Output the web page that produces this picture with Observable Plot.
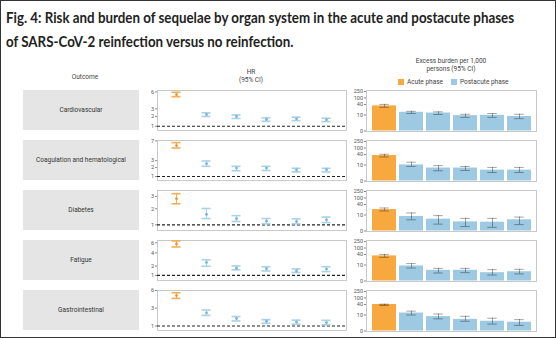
<!DOCTYPE html>
<html><head><meta charset="utf-8">
<script src="https://cdn.jsdelivr.net/npm/d3@7"></script>
<script src="https://cdn.jsdelivr.net/npm/@observablehq/plot@0.6"></script>
<style>
html,body{margin:0;padding:0;background:#fff;}
#fig{position:relative;width:556px;height:338px;box-sizing:border-box;border:1px solid #333;overflow:hidden;font-family:Roboto,"Noto Sans",sans-serif;}
.tl{position:absolute;left:5px;font-family:Lato,"Open Sans",sans-serif;font-weight:bold;font-size:15.5px;line-height:18px;color:#222;white-space:nowrap;transform-origin:0 0;}
.lbl{position:absolute;font-size:6.5px;color:#444;text-align:center;line-height:8px;width:140px;}
.box{position:absolute;left:22px;width:116px;height:40px;background:#e5e5e5;display:flex;align-items:center;justify-content:center;font-size:6.5px;color:#333;}
.plot{position:absolute;}
.leg{position:absolute;font-size:6.5px;color:#444;line-height:8px;white-space:nowrap;}
.sw{display:inline-block;width:6px;height:6px;vertical-align:-1px;margin-right:3px;}
</style></head><body>
<div id="fig">
  <span class="tl" id="t1" style="top:7px">Fig. 4: Risk and burden of sequelae by organ system in the acute and postacute phases</span>
  <span class="tl" id="t2" style="top:31px">of SARS-CoV-2 reinfection versus no reinfection.</span>
</div>
<script>
const outcomes = ["Cardiovascular","Coagulation and hematological","Diabetes","Fatigue","Gastrointestinal"];
const periods = ["Acute","Post 1","Post 2","Post 3","Post 4","Post 5"];
const phases = ["Acute phase","Postacute phase","Postacute phase","Postacute phase","Postacute phase","Postacute phase"];
const legendLabels = ["Acute phase","Postacute phase"];

// Hazard ratios (95% CI)
const hrEst = [
  [5.44,2.24,1.99,1.65,1.72,1.61],
  [5.9,2.53,1.94,1.94,1.70,1.73],
  [2.80,1.61,1.34,1.20,1.18,1.27],
  [5.75,2.48,1.75,1.68,1.43,1.64],
  [5.03,2.37,1.71,1.43,1.35,1.30]
];
const hrLo = [
  [5.05,1.99,1.76,1.46,1.53,1.43],
  [5.38,2.18,1.61,1.64,1.47,1.47],
  [2.38,1.35,1.18,1.05,1.05,1.12],
  [5.12,1.98,1.56,1.43,1.28,1.37],
  [4.53,2.06,1.46,1.24,1.16,1.11]
];
const hrHi = [
  [5.92,2.46,2.19,1.83,1.91,1.79],
  [6.58,2.95,2.17,2.17,1.91,1.91],
  [3.25,2.02,1.53,1.35,1.33,1.44],
  [6.4,2.87,2.02,1.92,1.66,1.92],
  [5.56,2.73,1.92,1.59,1.54,1.52]
];
const hrTicks = [[1,2,3,6],[1,2,3,7],[1,2,3],[1,2,4,6],[1,3,6]];
const hrDomains = [[0.67,6.3],[0.67,7.1],[0.73,3.55],[0.6,6.5],[0.67,6.0]];

// Excess burden per 1,000 persons (95% CI)
const burEst = [
  [36,17.7,15.6,9.6,9.8,9.1],
  [37,10.2,8.1,8.1,6.8,6.8],
  [25.5,9.1,7.4,5.7,5.5,7.0],
  [36,9.4,6.7,6.7,5.2,5.8],
  [40,15.6,9.0,7.3,6.1,5.5]
];
const burLo = [
  [32,14.2,11.4,8.5,8.5,7.7],
  [33,9.1,6.4,6.6,5.3,5.3],
  [21.6,7.0,4.3,2.8,2.3,4.0],
  [32,8.1,5.0,5.2,3.75,4.4],
  [37,10,7.6,6.1,4.3,3.5]
];
const burHi = [
  [41,20.5,19,12.1,14.2,12.1],
  [42,18,9.6,9.1,8.5,8.5],
  [30,15.8,9.6,7.9,7.9,8.7],
  [41,14,7.9,7.9,7.1,7.3],
  [43,21,12.8,9.2,8.0,7.1]
];
const burTicks = [0,10,40,100,250];

const barColor = {"Acute phase":"#F7A940","Postacute phase":"#9DCAE2"};
const capColor = {"Acute phase":"#F4AE55","Postacute phase":"#A9D1E7"};
const dotColor = {"Acute phase":"#E7972F","Postacute phase":"#7AB3D6"};

// fit the condensed title to the reference width
const t1 = document.getElementById("t1"), t2 = document.getElementById("t2");
const k = 508 / t1.getBoundingClientRect().width;
t1.style.transform = t2.style.transform = `scaleX(${Math.min(1,k)})`;

const fig = document.getElementById("fig");
function addDiv(cls, html, style){
  const d = document.createElement("div");
  d.className = cls; d.innerHTML = html;
  Object.assign(d.style, style);
  fig.appendChild(d); return d;
}
addDiv("lbl","Outcome",{left:(84-70)+"px",top:"72px"});
addDiv("lbl","HR<br>(95% CI)",{left:(250-70)+"px",top:"67px"});
addDiv("lbl","Excess burden per 1,000<br>persons (95% CI)",{left:(450-70)+"px",top:"56px"});
addDiv("leg",`<span class="sw" style="background:${barColor[legendLabels[0]]}"></span>${legendLabels[0]}`,{left:"397px",top:"77px"});
addDiv("leg",`<span class="sw" style="background:${barColor[legendLabels[1]]}"></span>${legendLabels[1]}`,{left:"450px",top:"77px"});

const axStyle = {fontFamily:"Roboto, sans-serif", fontSize:"5.5px", color:"#555", background:"transparent", overflow:"visible"};

outcomes.forEach((name, i) => {
  const top = 84 + 50*i;
  addDiv("box", name, {top:(top+5)+"px"});

  const hrRows = periods.map((p,j)=>({period:p, phase:phases[j], est:hrEst[i][j], lo:hrLo[i][j], hi:hrHi[i][j]}));
  const hr = Plot.plot({
    width:220, height:50, marginLeft:26, marginRight:5, marginTop:5, marginBottom:5,
    x:{type:"band", domain:periods, range:[28.8,211.2], padding:0, axis:null},
    y:{type:"sqrt", domain:hrDomains[i], axis:null},
    color:{type:"identity"},
    style:axStyle,
    marks:[
      Plot.frame({stroke:"#c9c9c9"}),
      Plot.axisY({ticks:hrTicks[i], tickSize:2, tickPadding:1.5, fontSize:5.5, tickFormat:d=>String(d), stroke:"#888"}),
      Plot.ruleY([1], {stroke:"#222", strokeDasharray:"3,2", strokeWidth:1.1}),
      Plot.ruleX(hrRows, {x:"period", y1:"lo", y2:"hi", stroke:d=>capColor[d.phase], strokeWidth:1}),
      Plot.tickY(hrRows, {x:"period", y:"lo", stroke:d=>capColor[d.phase], strokeWidth:1.6, insetLeft:10.5, insetRight:10.5}),
      Plot.tickY(hrRows, {x:"period", y:"hi", stroke:d=>capColor[d.phase], strokeWidth:1.6, insetLeft:10.5, insetRight:10.5}),
      Plot.dot(hrRows, {x:"period", y:"est", r:1.4, fill:d=>dotColor[d.phase], stroke:null})
    ]
  });
  hr.classList.add("plot");
  Object.assign(hr.style, {left:"130px", top:top+"px"});
  fig.appendChild(hr);

  const bRows = periods.map((p,j)=>({period:p, phase:phases[j], est:burEst[i][j], lo:burLo[i][j], hi:burHi[i][j]}));
  const bur = Plot.plot({
    width:205, height:50, marginLeft:30, marginRight:5, marginTop:5, marginBottom:4,
    x:{type:"band", domain:periods, range:[33.5,198.5], paddingInner:0.11, paddingOuter:0.055, axis:null},
    y:{type:"linear", domain:burTicks, range:[45.5,29.5,19,12.5,6], axis:null},
    color:{type:"identity"},
    style:axStyle,
    marks:[
      Plot.frame({stroke:"#c9c9c9"}),
      Plot.axisY({ticks:burTicks, tickSize:2, tickPadding:1.5, fontSize:5.5, tickFormat:d=>String(d), stroke:"#888"}),
      Plot.barY(bRows, {x:"period", y1:0, y2:"est", fill:d=>barColor[d.phase]}),
      Plot.ruleX(bRows, {x:"period", y1:"lo", y2:"hi", stroke:"#000", strokeOpacity:0.45, strokeWidth:0.8}),
      Plot.tickY(bRows, {x:"period", y:"lo", stroke:"#000", strokeOpacity:0.45, strokeWidth:0.8, insetLeft:7.25, insetRight:7.25}),
      Plot.tickY(bRows, {x:"period", y:"hi", stroke:"#000", strokeOpacity:0.45, strokeWidth:0.8, insetLeft:7.25, insetRight:7.25})
    ]
  });
  bur.classList.add("plot");
  Object.assign(bur.style, {left:"335px", top:top+"px"});
  fig.appendChild(bur);
});
</script>
</body></html>
